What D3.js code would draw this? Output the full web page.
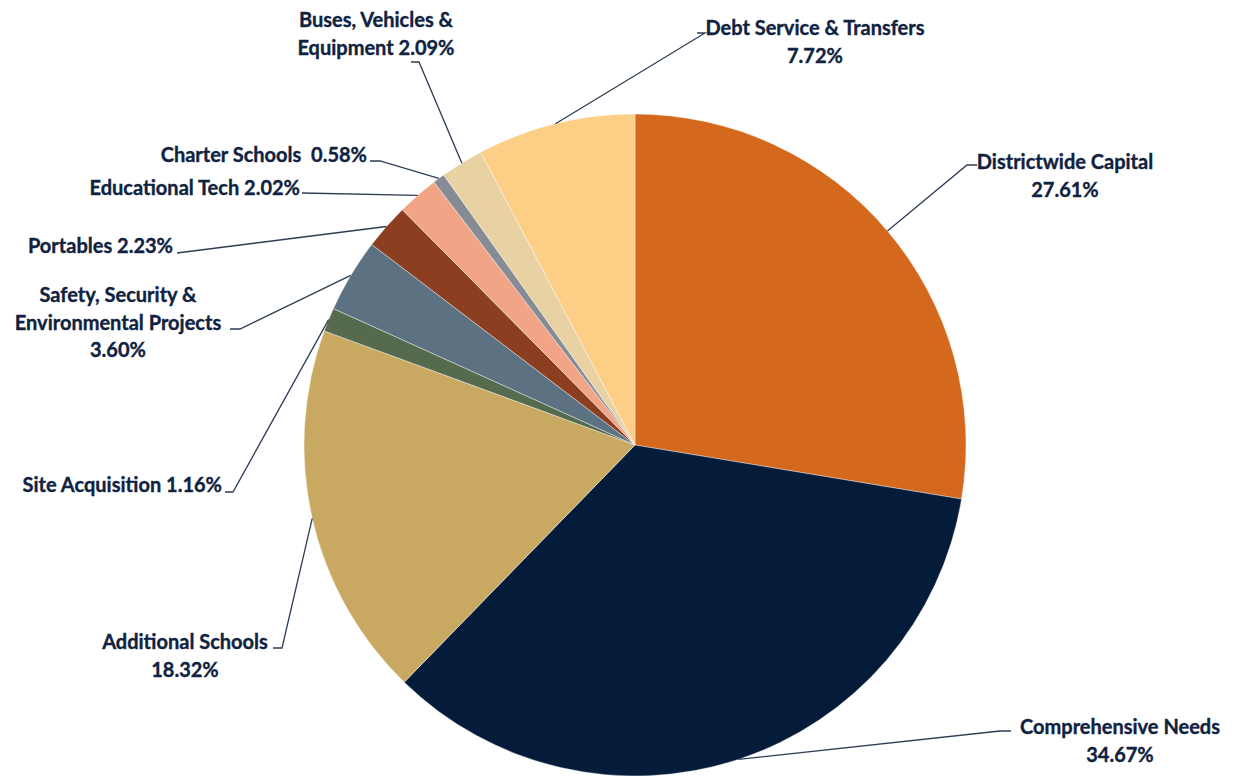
<!DOCTYPE html>
<html>
<head>
<meta charset="utf-8">
<script src="https://cdn.jsdelivr.net/npm/d3@7"></script>
<style>
  body { margin: 0; background: #fff; }
  text { font-family: Lato, "Open Sans", sans-serif; font-weight: 700; fill: #0f2240; stroke: #0f2240; stroke-width: 0.35px; }
</style>
</head>
<body>
<div id="chart"></div>
<script>
// data, clockwise from 12 o'clock
var categories = ["Districtwide Capital", "Comprehensive Needs", "Additional Schools", "Site Acquisition",
    "Safety, Security & Environmental Projects", "Portables", "Educational Tech", "Charter Schools",
    "Buses, Vehicles & Equipment", "Debt Service & Transfers"];
var values = [27.61, 34.67, 18.32, 1.16, 3.60, 2.23, 2.02, 0.58, 2.09, 7.72];
var labelLines = [
    ["Districtwide Capital", "27.61%"],
    ["Comprehensive Needs", "34.67%"],
    ["Additional Schools", "18.32%"],
    ["Site Acquisition 1.16%"],
    ["Safety, Security &", "Environmental Projects", "3.60%"],
    ["Portables 2.23%"],
    ["Educational Tech 2.02%"],
    ["Charter Schools\u00a0 0.58%"],
    ["Buses, Vehicles &", "Equipment 2.09%"],
    ["Debt Service & Transfers", "7.72%"]
];
var colors = ["#d4691e", "#041b3a", "#c9a962", "#566a4e", "#5c7282", "#8b3e20", "#f2a487", "#868b94", "#e8d1a2", "#fdce86"];

// label layout: text anchor point, first line y, leader elbow and end
var labelLayout = [
    {x: 1065, y: 162, anchor: "middle", ex: 967, ey: 165, hx: 977},
    {x: 1120, y: 727, anchor: "middle", ex: 1000, ey: 731, hx: 1011},
    {x: 185, y: 642, anchor: "middle", ex: 282, ey: 648, hx: 273},
    {x: 222, y: 485, anchor: "end", ex: 233, ey: 492, hx: 225},
    {x: 118, y: 295, anchor: "middle", ex: 240, ey: 329, hx: 230},
    {x: 173, y: 246, anchor: "end", ex: 177, ey: 253, hx: 177},
    {x: 300, y: 188, anchor: "end", ex: 302, ey: 193, hx: 302},
    {x: 367, y: 155, anchor: "end", ex: 380, ey: 161, hx: 370},
    {x: 376, y: 20, anchor: "middle", ex: 419, ey: 62, hx: 411},
    {x: 815, y: 28, anchor: "middle", ex: 705, ey: 33, hx: 697}
];

var width = 1235,
    height = 776;
var cx = 635, cy = 445, radius = 331;

var svg = d3.select("#chart")
    .append("svg")
    .attr("width", width)
    .attr("height", height);

var data = categories.map(function (c, i) {
    return {name: c, value: values[i], color: colors[i], lines: labelLines[i], lay: labelLayout[i]};
});

var pie = d3.pie().sort(null).value(function (d) { return d.value; });
var arc = d3.arc().innerRadius(0).outerRadius(radius);

var g = svg.append("g").attr("transform", "translate(" + cx + "," + cy + ")");

var arcs = pie(data);

g.selectAll("path.slice")
    .data(arcs)
    .enter()
    .append("path")
    .attr("class", "slice")
    .attr("d", arc)
    .attr("fill", function (d) { return d.data.color; })
    .attr("stroke", "#fff")
    .attr("stroke-width", 0.4);

// leader lines
svg.selectAll("polyline.leader")
    .data(arcs)
    .enter()
    .append("polyline")
    .attr("class", "leader")
    .attr("fill", "none")
    .attr("stroke", "#2c3d55")
    .attr("stroke-width", 1.3)
    .attr("points", function (d) {
        var a = (d.startAngle + d.endAngle) / 2;
        var sx = cx + radius * Math.sin(a),
            sy = cy - radius * Math.cos(a);
        var l = d.data.lay;
        return [[sx, sy], [l.ex, l.ey], [l.hx, l.ey]].join(" ");
    });

// labels
var labels = svg.selectAll("text.label")
    .data(arcs)
    .enter()
    .append("text")
    .attr("class", "label")
    .attr("text-anchor", function (d) { return d.data.lay.anchor; })
    .style("font-size", "20px");

labels.selectAll("tspan")
    .data(function (d) {
        return d.data.lines.map(function (t, i) { return {t: t, i: i, lay: d.data.lay}; });
    })
    .enter()
    .append("tspan")
    .attr("x", function (d) { return d.lay.x; })
    .attr("y", function (d) { return d.lay.y + d.i * 27.5; })
    .attr("dy", "0.35em")
    .text(function (d) { return d.t; });
</script>
</body>
</html>
